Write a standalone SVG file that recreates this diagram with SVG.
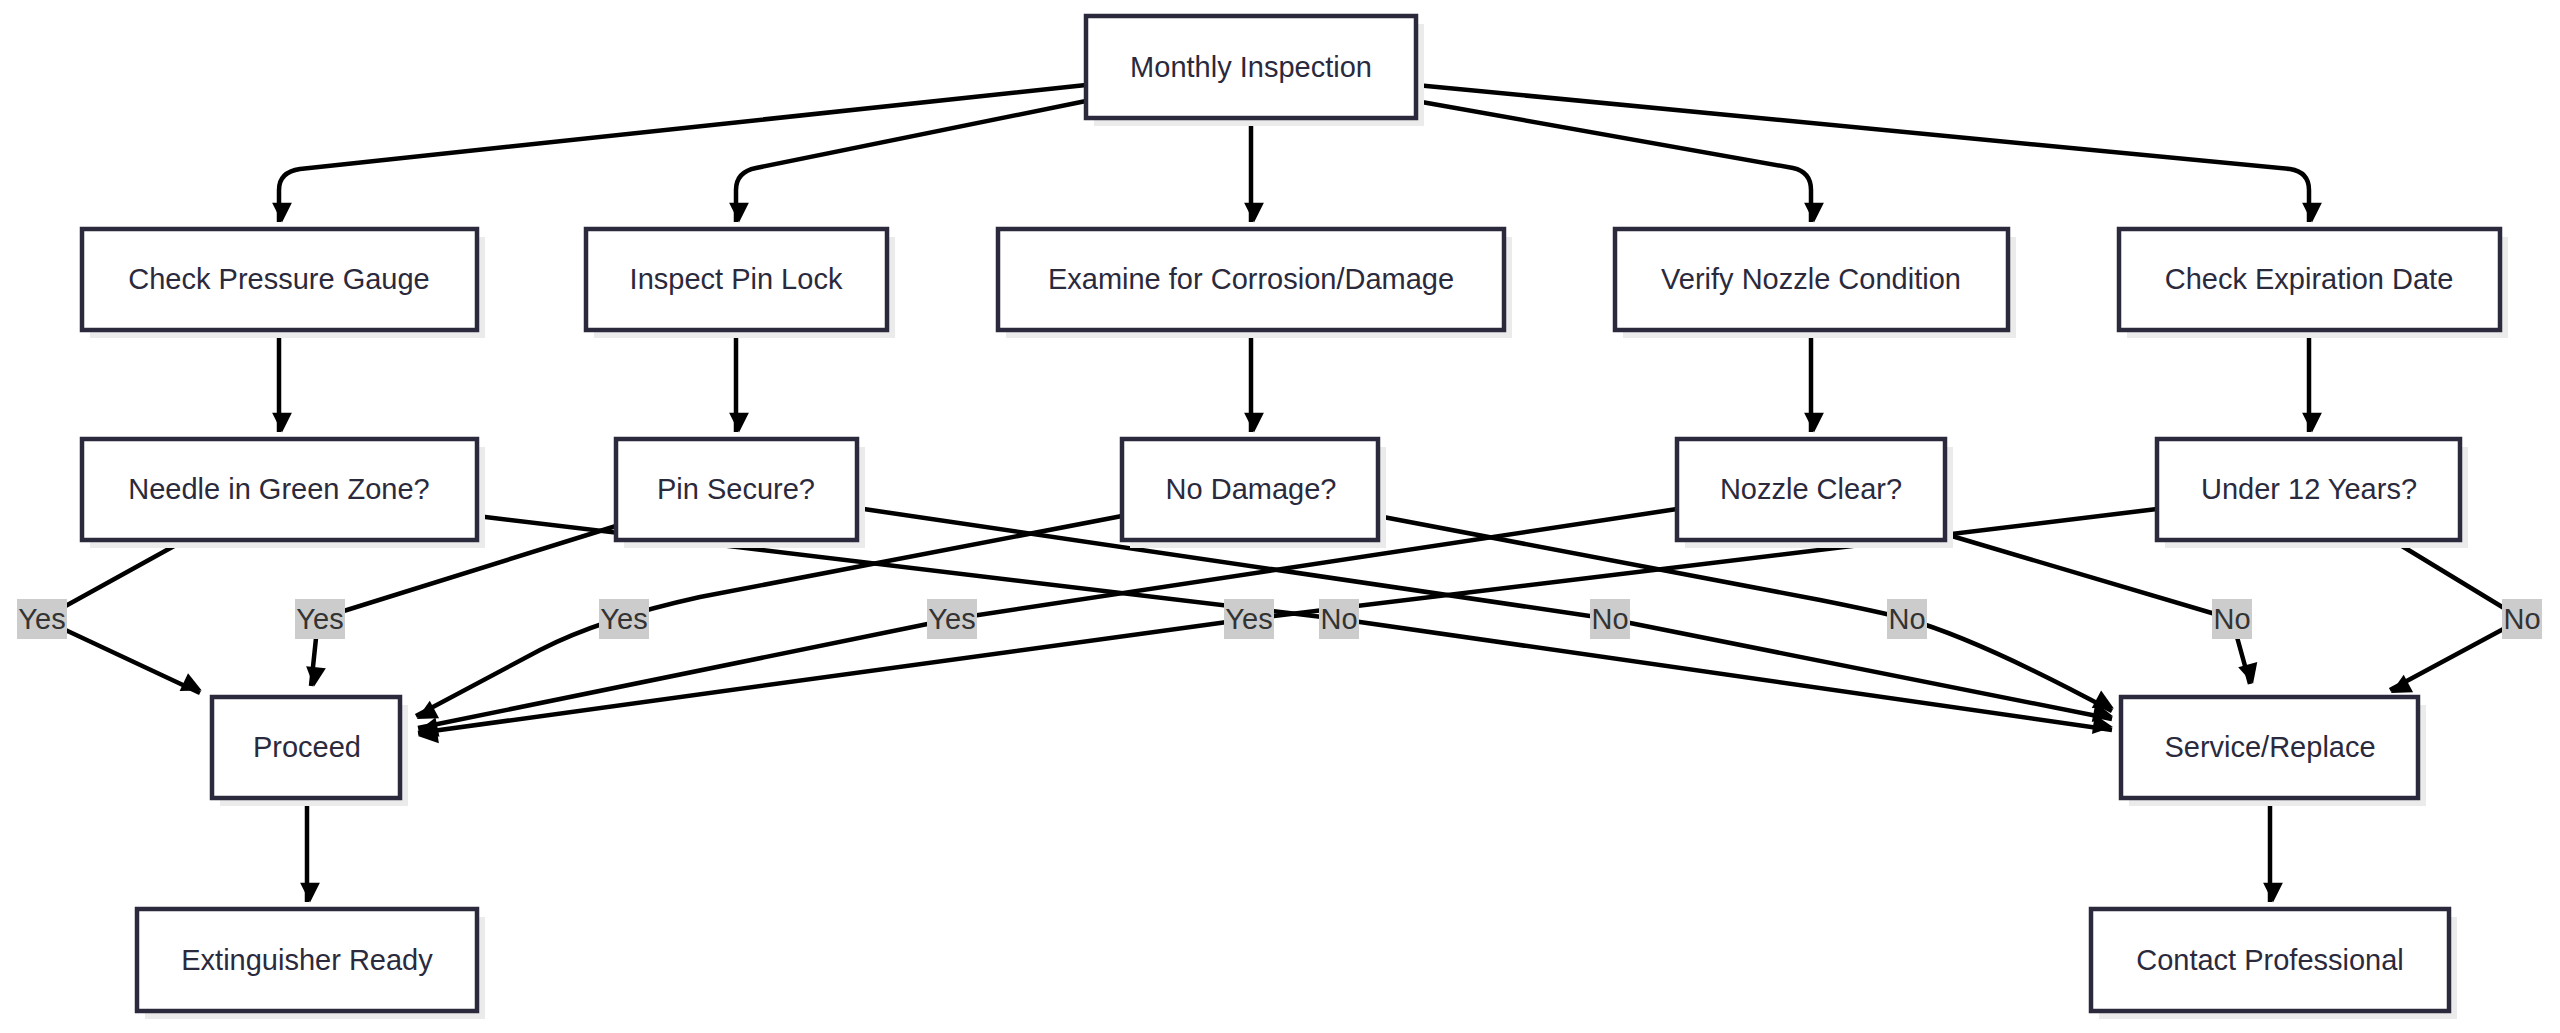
<svg xmlns="http://www.w3.org/2000/svg" width="2560" height="1033" viewBox="0 0 2560 1033">
<style>
.n rect.b{fill:#fff;stroke:#2b2a3d;stroke-width:4.5}
.n rect.s{fill:#ebebeb}
.n text{font-family:"Liberation Sans",Arial,sans-serif;font-size:29px;fill:#2b2a3d;text-anchor:middle;dominant-baseline:central}
.e path{fill:none;stroke:#000;stroke-width:4.5;stroke-linejoin:round;marker-end:url(#a)}
.l rect{fill:#cccccc}
.l text{font-family:"Liberation Sans",Arial,sans-serif;font-size:29px;fill:#333;text-anchor:middle;dominant-baseline:central}
</style>
<defs><marker id="a" viewBox="0 0 10 10" refX="9" refY="5" markerWidth="6" markerHeight="6" markerUnits="userSpaceOnUse" orient="auto" style="overflow:visible"><path d="M0,0L10,5L0,10z" fill="#000" transform="scale(3.3) translate(-7,-5) translate(0,5) translate(0,-5)"/></marker></defs>
<rect width="2560" height="1033" fill="#fff"/>
<g class="e">
<path d="M1086,85 L300,169 Q279,172 279,190 L279,222"/>
<path d="M1086,101 L756,168 Q736,172 736,190 L736,222"/>
<path d="M1251,118 L1251,222"/>
<path d="M1416,101 L1793,168 Q1811,172 1811,190 L1811,222"/>
<path d="M1416,85 L2290,169 Q2309,172 2309,190 L2309,222"/>
<path d="M279,330 L279,432"/>
<path d="M736,330 L736,432"/>
<path d="M1251,330 L1251,432"/>
<path d="M1811,330 L1811,432"/>
<path d="M2309,330 L2309,432"/>
<path d="M307,798 L307,902"/>
<path d="M2270,798 L2270,902"/>
<path d="M185,540 L42,619 L200,693"/>
<path d="M616,526 L318,619 L311,686"/>
<path d="M1122,516 L700,597 Q600,619 540,650 L416,716"/>
<path d="M1677,509 L952,619 L418,728"/>
<path d="M2157,509 L1249,619 L418,733"/>
<path d="M477,516 L1339,619 L2112,730"/>
<path d="M857,508 L1610,619 L2112,719"/>
<path d="M1378,516 L1820,600 Q1880,612 1907,619 Q1980,640 2112,711"/>
<path d="M1945,534 L2232,619 L2250,684"/>
<path d="M2392,540 L2522,619 L2390,690"/>
</g>
<g class="l">
<g><rect x="17" y="599" width="50" height="40"/><text x="42" y="619">Yes</text></g>
<g><rect x="295" y="599" width="50" height="40"/><text x="320" y="619">Yes</text></g>
<g><rect x="599" y="599" width="50" height="40"/><text x="624" y="619">Yes</text></g>
<g><rect x="927" y="599" width="50" height="40"/><text x="952" y="619">Yes</text></g>
<g><rect x="1224" y="599" width="50" height="40"/><text x="1249" y="619">Yes</text></g>
<g><rect x="1319" y="599" width="40" height="40"/><text x="1339" y="619">No</text></g>
<g><rect x="1590" y="599" width="40" height="40"/><text x="1610" y="619">No</text></g>
<g><rect x="1887" y="599" width="40" height="40"/><text x="1907" y="619">No</text></g>
<g><rect x="2212" y="599" width="40" height="40"/><text x="2232" y="619">No</text></g>
<g><rect x="2502" y="599" width="40" height="40"/><text x="2522" y="619">No</text></g>
</g>
<g id="monthly" class="n"><rect class="s" x="1094" y="24" width="330" height="102"/><rect class="b" x="1086" y="16" width="330" height="102"/><text x="1251" y="67">Monthly Inspection</text></g>
<g id="pressure" class="n"><rect class="s" x="90" y="237" width="395" height="101"/><rect class="b" x="82" y="229" width="395" height="101"/><text x="279" y="279">Check Pressure Gauge</text></g>
<g id="pin" class="n"><rect class="s" x="594" y="237" width="301" height="101"/><rect class="b" x="586" y="229" width="301" height="101"/><text x="736" y="279">Inspect Pin Lock</text></g>
<g id="corrosion" class="n"><rect class="s" x="1006" y="237" width="506" height="101"/><rect class="b" x="998" y="229" width="506" height="101"/><text x="1251" y="279">Examine for Corrosion/Damage</text></g>
<g id="nozzle" class="n"><rect class="s" x="1623" y="237" width="393" height="101"/><rect class="b" x="1615" y="229" width="393" height="101"/><text x="1811" y="279">Verify Nozzle Condition</text></g>
<g id="expiration" class="n"><rect class="s" x="2127" y="237" width="381" height="101"/><rect class="b" x="2119" y="229" width="381" height="101"/><text x="2309" y="279">Check Expiration Date</text></g>
<g id="needle" class="n"><rect class="s" x="90" y="447" width="395" height="101"/><rect class="b" x="82" y="439" width="395" height="101"/><text x="279" y="489">Needle in Green Zone?</text></g>
<g id="pinsecure" class="n"><rect class="s" x="624" y="447" width="241" height="101"/><rect class="b" x="616" y="439" width="241" height="101"/><text x="736" y="489">Pin Secure?</text></g>
<g id="nodamage" class="n"><rect class="s" x="1130" y="447" width="256" height="101"/><rect class="b" x="1122" y="439" width="256" height="101"/><text x="1251" y="489">No Damage?</text></g>
<g id="nozzleclear" class="n"><rect class="s" x="1685" y="447" width="268" height="101"/><rect class="b" x="1677" y="439" width="268" height="101"/><text x="1811" y="489">Nozzle Clear?</text></g>
<g id="under12" class="n"><rect class="s" x="2165" y="447" width="303" height="101"/><rect class="b" x="2157" y="439" width="303" height="101"/><text x="2309" y="489">Under 12 Years?</text></g>
<g id="proceed" class="n"><rect class="s" x="220" y="705" width="188" height="101"/><rect class="b" x="212" y="697" width="188" height="101"/><text x="307" y="747">Proceed</text></g>
<g id="service" class="n"><rect class="s" x="2129" y="705" width="297" height="101"/><rect class="b" x="2121" y="697" width="297" height="101"/><text x="2270" y="747">Service/Replace</text></g>
<g id="ready" class="n"><rect class="s" x="145" y="917" width="340" height="102"/><rect class="b" x="137" y="909" width="340" height="102"/><text x="307" y="960">Extinguisher Ready</text></g>
<g id="contact" class="n"><rect class="s" x="2099" y="917" width="358" height="102"/><rect class="b" x="2091" y="909" width="358" height="102"/><text x="2270" y="960">Contact Professional</text></g>
</svg>
